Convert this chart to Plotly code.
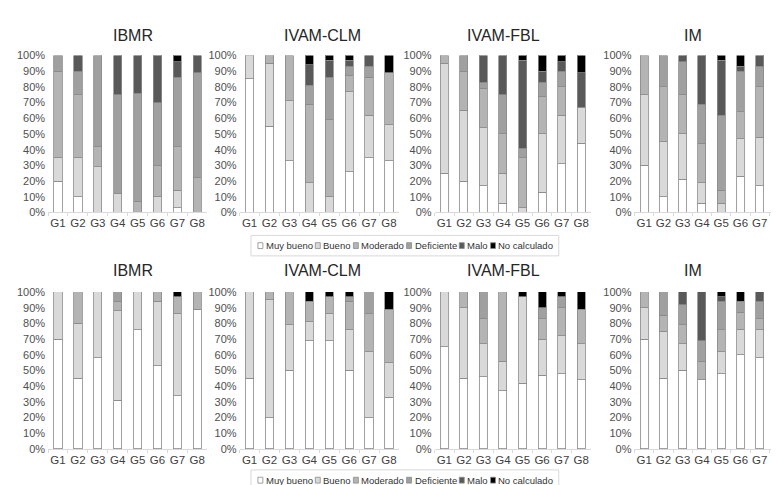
import plotly.graph_objects as go
from plotly.subplots import make_subplots

W, H = 779, 485

groups = ["G1", "G2", "G3", "G4", "G5", "G6", "G7", "G8"]
categories = ["Muy bueno", "Bueno", "Moderado", "Deficiente", "Malo", "No calculado"]
colors = ["#ffffff", "#d9d9d9", "#b4b4b4", "#a0a0a0", "#595959", "#000000"]
panel_titles = ["IBMR", "IVAM-CLM", "IVAM-FBL", "IM"]
y_ticks = [0, 10, 20, 30, 40, 50, 60, 70, 80, 90, 100]
y_tick_labels = ["0%", "10%", "20%", "30%", "40%", "50%", "60%", "70%", "80%", "90%", "100%"]

# ---- Top row (values in %, per category, per group G1..G8) ----
top_IBMR = {
    "Muy bueno":    [20, 10, 0, 0, 0, 0, 3, 0],
    "Bueno":        [15, 25, 29, 12, 0, 10, 11, 0],
    "Moderado":     [55, 40, 13, 0, 7, 20, 28, 22],
    "Deficiente":   [10, 15, 58, 63, 69, 40, 44, 67],
    "Malo":         [0, 10, 0, 25, 24, 30, 10, 11],
    "No calculado": [0, 0, 0, 0, 0, 0, 4, 0],
}
top_CLM = {
    "Muy bueno":    [85, 55, 33, 0, 0, 26, 35, 33],
    "Bueno":        [15, 40, 38, 19, 10, 51, 27, 23],
    "Moderado":     [0, 5, 29, 50, 49, 10, 24, 33],
    "Deficiente":   [0, 0, 0, 12, 27, 6, 7, 0],
    "Malo":         [0, 0, 0, 13, 11, 4, 7, 0],
    "No calculado": [0, 0, 0, 6, 3, 3, 0, 11],
}
top_FBL = {
    "Muy bueno":    [25, 20, 17, 6, 0, 13, 31, 44],
    "Bueno":        [70, 45, 37, 19, 3, 37, 31, 23],
    "Moderado":     [5, 25, 25, 25, 32, 24, 18, 0],
    "Deficiente":   [0, 10, 4, 25, 6, 9, 10, 0],
    "Malo":         [0, 0, 17, 25, 56, 7, 6, 22],
    "No calculado": [0, 0, 0, 0, 3, 10, 4, 11],
}
top_IM = {
    "Muy bueno":    [30, 10, 21, 6, 0, 23, 17, 22],
    "Bueno":        [45, 35, 29, 13, 6, 24, 31, 0],
    "Moderado":     [25, 35, 25, 25, 8, 17, 32, 34],
    "Deficiente":   [0, 20, 21, 25, 48, 26, 13, 11],
    "Malo":         [0, 0, 4, 31, 35, 3, 7, 22],
    "No calculado": [0, 0, 0, 0, 3, 7, 0, 11],
}

# ---- Bottom row ----
bot_IBMR = {
    "Muy bueno":    [70, 45, 58, 31, 76, 53, 34, 89],
    "Bueno":        [30, 35, 42, 57, 24, 41, 52, 0],
    "Moderado":     [0, 20, 0, 6, 0, 6, 11, 11],
    "Deficiente":   [0, 0, 0, 6, 0, 0, 0, 0],
    "Malo":         [0, 0, 0, 0, 0, 0, 0, 0],
    "No calculado": [0, 0, 0, 0, 0, 0, 3, 0],
}
bot_CLM = {
    "Muy bueno":    [45, 20, 50, 69, 69, 50, 20, 33],
    "Bueno":        [55, 75, 29, 12, 17, 26, 42, 22],
    "Moderado":     [0, 5, 21, 13, 11, 18, 24, 34],
    "Deficiente":   [0, 0, 0, 0, 0, 3, 14, 0],
    "Malo":         [0, 0, 0, 0, 0, 0, 0, 0],
    "No calculado": [0, 0, 0, 6, 3, 3, 0, 11],
}
bot_FBL = {
    "Muy bueno":    [65, 45, 46, 37, 42, 47, 48, 44],
    "Bueno":        [35, 45, 21, 19, 55, 23, 24, 23],
    "Moderado":     [0, 10, 16, 44, 0, 13, 18, 22],
    "Deficiente":   [0, 0, 17, 0, 0, 7, 7, 0],
    "Malo":         [0, 0, 0, 0, 0, 0, 0, 0],
    "No calculado": [0, 0, 0, 0, 3, 10, 3, 11],
}
bot_IM = {
    "Muy bueno":    [70, 45, 50, 44, 48, 60, 58, 44],
    "Bueno":        [20, 30, 17, 0, 14, 16, 18, 0],
    "Moderado":     [10, 10, 12, 12, 14, 11, 7, 23],
    "Deficiente":   [0, 15, 13, 13, 18, 7, 11, 0],
    "Malo":         [0, 0, 8, 31, 3, 0, 6, 22],
    "No calculado": [0, 0, 0, 0, 3, 6, 0, 11],
}

panels = [[top_IBMR, top_CLM, top_FBL, top_IM],
          [bot_IBMR, bot_CLM, bot_FBL, bot_IM]]

# ---- layout geometry (pixels) ----
x_dom_px = [(40.5, 201.3), (234, 395), (431, 589), (633, 779)]
x_ranges = [[-0.5, 7.5], [-0.5, 7.5], [-0.5, 7.5], [-0.5, 7.0]]
y_dom_px = [(42.5, 203.5), (285, 446)]
title_x_px = [126, 318, 501, 692]
title_y_px = [22, 263]
legend_y_px = [237.5, 478]
legend_center_px = 401
LEG_FONT = 9.5
SW = 5          # swatch size
SW_GAP = 2      # swatch -> text gap
ITEM_GAP = 4    # text -> next swatch gap

FONT = "Liberation Sans, Arial, sans-serif"

# approximate Arial glyph advance widths (em units) for laying out the legend
ARIAL_W = {"M": .833, "u": .556, "y": .5, " ": .278, "b": .556, "e": .556, "n": .556,
           "o": .556, "B": .667, "d": .556, "r": .333, "a": .556, "D": .722, "f": .278,
           "i": .222, "c": .5, "t": .278, "l": .222, "N": .722}


def text_w(s, size):
    return sum(ARIAL_W.get(ch, .556) for ch in s) * size


fig = make_subplots(rows=2, cols=4)

for r in range(2):
    for c in range(4):
        data = panels[r][c]
        for cat, col in zip(categories, colors):
            vals = [v if v != 0 else None for v in data[cat]]
            fig.add_trace(
                go.Bar(
                    x=groups, y=vals, name=cat,
                    marker=dict(color=col, line=dict(color="#8a8a8a", width=0.8)),
                    width=0.41, showlegend=False,
                    hovertemplate="%{x}: %{y}%<extra>" + cat + "</extra>",
                ),
                row=r + 1, col=c + 1,
            )
        x0, x1 = x_dom_px[c]
        y0, y1 = y_dom_px[r]
        fig.update_xaxes(
            domain=[x0 / W, x1 / W], range=x_ranges[c],
            showline=True, linecolor="#d9d9d9", linewidth=1,
            ticks="outside", tickson="boundaries", ticklen=3, tickcolor="#d9d9d9",
            tickangle=0,
            tickfont=dict(family=FONT, size=11.5, color="#404040"),
            showgrid=False, zeroline=False, fixedrange=True,
            row=r + 1, col=c + 1,
        )
        fig.update_yaxes(
            domain=[1 - y1 / H, 1 - y0 / H], range=[0, 100],
            tickmode="array", tickvals=y_ticks, ticktext=y_tick_labels,
            tickfont=dict(family=FONT, size=11, color="#505050"),
            showgrid=False, zeroline=False, showline=False, ticks="",
            ticklabelstandoff=2,
            row=r + 1, col=c + 1,
        )

# legend layout (flow of swatch + text items, centred)
item_w = [SW + SW_GAP + text_w(cat, LEG_FONT) for cat in categories]
total_w = sum(item_w) + ITEM_GAP * (len(categories) - 1)
start_x = legend_center_px - total_w / 2

annotations = []
shapes = []
for r in range(2):
    for c in range(4):
        annotations.append(dict(
            x=title_x_px[c] / W, y=1 - title_y_px[r] / H, xref="paper", yref="paper",
            text=panel_titles[c], showarrow=False, xanchor="center", yanchor="middle",
            font=dict(family=FONT, size=16, color="#262626"),
        ))
    ly = legend_y_px[r]
    bx0, bx1 = start_x - 7, start_x + total_w + 7
    shapes.append(dict(type="rect", xref="paper", yref="paper",
                       x0=bx0 / W, x1=bx1 / W, y0=1 - (ly + 10.5) / H, y1=1 - (ly - 10.5) / H,
                       line=dict(color="#d9d9d9", width=1), fillcolor="rgba(0,0,0,0)"))
    sx = start_x
    for cat, col, iw in zip(categories, colors, item_w):
        shapes.append(dict(type="rect", xref="paper", yref="paper",
                           x0=sx / W, x1=(sx + SW) / W, y0=1 - (ly + 3) / H, y1=1 - (ly - 3) / H,
                           line=dict(color="#8a8a8a", width=0.8), fillcolor=col))
        annotations.append(dict(
            x=(sx + SW + SW_GAP) / W, y=1 - ly / H, xref="paper", yref="paper",
            text=cat, showarrow=False, xanchor="left", yanchor="middle",
            font=dict(family=FONT, size=LEG_FONT, color="#333333"),
            xshift=-1,
        ))
        sx += iw + ITEM_GAP

fig.update_layout(
    width=W, height=H,
    margin=dict(l=0, r=0, t=0, b=0),
    barmode="stack",
    plot_bgcolor="white", paper_bgcolor="white",
    annotations=annotations, shapes=shapes,
    showlegend=False,
)

fig.write_html("out.html")
